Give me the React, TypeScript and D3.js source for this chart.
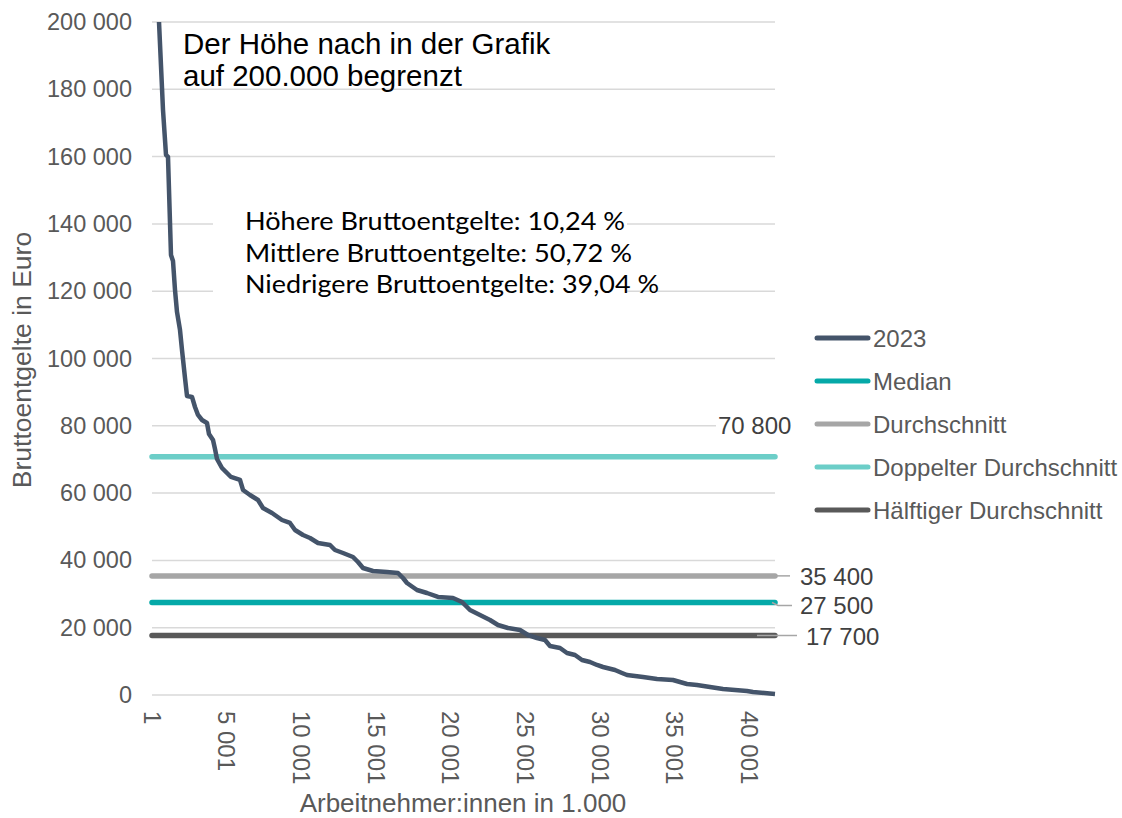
import React from "react";
import * as d3 from "d3";

// ---- data ----
const curveX: number[] = [470, 737, 938, 1072, 1272, 1406, 1540, 1674, 1875, 2009, 2210, 2344, 2678, 2879, 3080, 3348, 3682, 3816, 4084, 4218, 4352, 4686, 5021, 5288, 5891, 6092, 6560, 7096, 7430, 8033, 8702, 9237, 9572, 10108, 10576, 11112, 11915, 12250, 12785, 13454, 13789, 14124, 14793, 15730, 16466, 16801, 17068, 17738, 18407, 19143, 20147, 20749, 21285, 21954, 22623, 23159, 23828, 24631, 25167, 25769, 26305, 26640, 27309, 27778, 28313, 28782, 29317, 29786, 30187, 30991, 31459, 31794, 32865, 33802, 34873, 35341, 35810, 36479, 37349, 38219, 39825, 40227, 41700];
const curveY: number[] = [200000, 173860, 160490, 159900, 130770, 128990, 120370, 113830, 108480, 102530, 94210, 88860, 88570, 85590, 83220, 81730, 80840, 77570, 75790, 73110, 70140, 67460, 65980, 64790, 63900, 60930, 59440, 57950, 55580, 54090, 52010, 51120, 49040, 47550, 46660, 45170, 44580, 43090, 42200, 41010, 39530, 37740, 36850, 36560, 36260, 34770, 33290, 31210, 30310, 29130, 28830, 27640, 25260, 23780, 22290, 20800, 19910, 19320, 17830, 16940, 16350, 14560, 13970, 12480, 11890, 10400, 9810, 8920, 8320, 7430, 6540, 5940, 5350, 4760, 4460, 3860, 3270, 2970, 2380, 1780, 1190, 890, 300];

const refNames: string[] = ["Median", "Durchschnitt", "Doppelter Durchschnitt", "Hälftiger Durchschnitt"];
const refValues: number[] = [27500, 35400, 70800, 17700];
const refColors: string[] = ["#05A9A8", "#A6A6A6", "#6CCEC8", "#595959"];

const legendNames: string[] = ["2023", "Median", "Durchschnitt", "Doppelter Durchschnitt", "Hälftiger Durchschnitt"];
const legendColors: string[] = ["#44546A", "#05A9A8", "#A6A6A6", "#6CCEC8", "#595959"];

const yTicks: number[] = [0, 20000, 40000, 60000, 80000, 100000, 120000, 140000, 160000, 180000, 200000];
const xTicks: number[] = [1, 5001, 10001, 15001, 20001, 25001, 30001, 35001, 40001];

const infoLines: string[] = [
  "Höhere Bruttoentgelte: 10,24 %",
  "Mittlere Bruttoentgelte: 50,72 %",
  "Niedrigere Bruttoentgelte: 39,04 %",
];
const noteLines: string[] = ["Der Höhe nach in der Grafik", "auf 200.000 begrenzt"];

const fmt = (v: number) => d3.format(",")(v).replace(/,/g, " ");

export default function App() {
  const W = 1122, H = 818;
  const x = d3.scaleLinear().domain([1, 41700]).range([152, 775]);
  const y = d3.scaleLinear().domain([0, 200000]).range([695, 22]);
  const line = d3.line<number>().x((_, i) => x(curveX[i])).y((d) => y(d));
  const font = "'Liberation Sans', Arial, sans-serif";
  const gray = "#595959";

  const labelPos: Record<number, { lx: number; ly: number; leader: string }> = {
    35400: { lx: 800, ly: y(35400) + 1, leader: `M777,${y(35400)}L790,${y(35400)}` },
    27500: { lx: 800, ly: y(27500) + 3, leader: `M772,${y(27500)}L778,${y(27500) + 3}L792,${y(27500) + 3}` },
    17700: { lx: 806, ly: y(17700) + 1, leader: `M757,${y(17700)}L797,${y(17700)}` },
  };

  return (
    <svg width={W} height={H} style={{ position: "absolute", left: 0, top: 0, background: "#fff" }} fontFamily={font}>
      {/* gridlines */}
      {yTicks.map((t) => (
        <line key={t} x1={152} x2={775} y1={y(t)} y2={y(t)} stroke="#D9D9D9" strokeWidth={1.5} />
      ))}
      {/* y tick labels */}
      {yTicks.map((t) => (
        <text key={"yl" + t} x={132} y={y(t)} textAnchor="end" dominantBaseline="central" fontSize={23.5} fill={gray}>
          {fmt(t)}
        </text>
      ))}
      {/* x tick labels */}
      {xTicks.map((t) => (
        <text key={"xl" + t} transform={`translate(${x(t)},711) rotate(90)`} textAnchor="start" dominantBaseline="central" fontSize={24} fill={gray}>
          {fmt(t)}
        </text>
      ))}
      {/* axis titles */}
      <text transform="translate(22,360) rotate(-90)" textAnchor="middle" dominantBaseline="central" fontSize={26.5} fill={gray}>
        Bruttoentgelte in Euro
      </text>
      <text x={463} y={812} textAnchor="middle" fontSize={26} fill={gray}>
        Arbeitnehmer:innen in 1.000
      </text>

      {/* info box */}
      <rect x={213} y={200} width={414} height={100} fill="#fff" />
      {infoLines.map((s, i) => (
        <text key={s} x={245} y={230 + i * 31.5} fontSize={25} fill="#000" fontFamily="Lato, 'Open Sans', sans-serif"
          textLength={[380, 387, 414][i]} lengthAdjust="spacingAndGlyphs">
          {s}
        </text>
      ))}
      {/* note */}
      {noteLines.map((s, i) => (
        <text key={s} x={183} y={54 + i * 32} fontSize={29.5} fill="#000">
          {s}
        </text>
      ))}

      {/* reference lines */}
      {refValues.map((v, i) => (
        <line key={refNames[i]} x1={152} x2={775} y1={y(v)} y2={y(v)} stroke={refColors[i]} strokeWidth={5.5} strokeLinecap="round" />
      ))}
      {/* 2023 curve */}
      <path d={line(curveY) || ""} fill="none" stroke="#44546A" strokeWidth={4.5} strokeLinejoin="round" />

      {/* value labels */}
      <rect x={716} y={411} width={76} height={28} fill="#fff" />
      <text x={718} y={425} dominantBaseline="central" fontSize={24} fill="#404040">{fmt(70800)}</text>
      {[35400, 27500, 17700].map((v) => (
        <g key={"lab" + v}>
          <path d={labelPos[v].leader} fill="none" stroke="#A6A6A6" strokeWidth={1.5} />
          <text x={labelPos[v].lx} y={labelPos[v].ly} dominantBaseline="central" fontSize={24} fill="#404040">{fmt(v)}</text>
        </g>
      ))}

      {/* legend */}
      {legendNames.map((n, i) => (
        <g key={n} transform={`translate(0,${338 + i * 43})`}>
          <line x1={817} x2={868} y1={0} y2={0} stroke={legendColors[i]} strokeWidth={5} strokeLinecap="round" />
          <text x={873} y={0} dominantBaseline="central" fontSize={24} fill={gray}>{n}</text>
        </g>
      ))}
    </svg>
  );
}
